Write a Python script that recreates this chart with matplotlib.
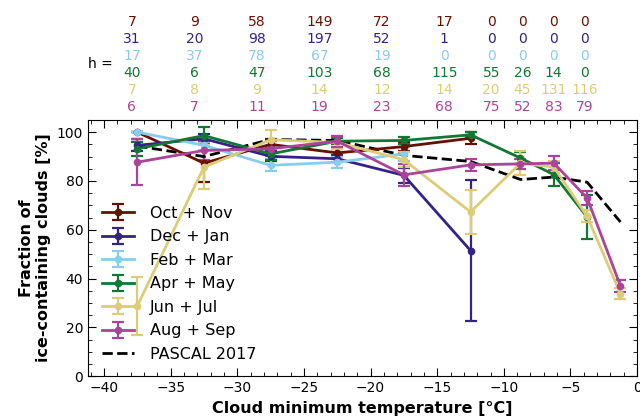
import numpy as np
import matplotlib
matplotlib.use("Agg")
import matplotlib.pyplot as plt
from matplotlib.ticker import MultipleLocator

nan = np.nan

# Temperature bins (bin centres, degC)
temps = [-37.5, -32.5, -27.5, -22.5, -17.5, -12.5, -8.75, -6.25, -3.75, -1.25]

# Fraction of ice-containing clouds per season [%] and their uncertainties
oct_nov = [100, 87.3, 95.0, 91.5, 94.1, 97.5, nan, nan, nan, nan]
oct_nov_err = [0, 7.8, 2.0, 1.5, 2.0, 2.5, nan, nan, nan, nan]
dec_jan = [94.6, 97.3, 90.1, 89.1, 82.3, 51.5, nan, nan, nan, nan]
dec_jan_err = [2.5, 2.0, 2.0, 1.5, 3.0, 29.0, nan, nan, nan, nan]
feb_mar = [100, 94.6, 86.4, 87.7, 91.1, nan, nan, nan, nan, nan]
feb_mar_err = [0, 2.0, 2.5, 2.2, 3.0, nan, nan, nan, nan, nan]
apr_may = [93.2, 98.6, 91.1, 96.3, 96.6, 98.9, 89.4, 82.6, 65.2, nan]
apr_may_err = [2.9, 3.4, 2.5, 1.2, 1.5, 1.0, 2.5, 4.8, 9.0, nan]
jun_jul = [28.8, 85.7, 96.9, 95.8, 88.7, 67.3, 87.3, 85.7, 65.5, 33.8]
jun_jul_err = [12.0, 9.0, 3.8, 2.5, 3.0, 8.9, 5.0, 2.5, 2.5, 2.2]
aug_sep = [87.7, 92.5, 93.2, 96.3, 82.5, 86.6, 87.0, 87.3, 73.0, 37.0]
aug_sep_err = [9.4, 4.0, 3.0, 2.3, 4.5, 2.5, 2.0, 3.0, 3.0, 2.6]
pascal = [94.3, 90.0, 97.0, 96.6, 90.5, 88.0, 80.6, 81.6, 79.5, 63.2]

# Number of observations per bin
h_oct_nov = [7, 9, 58, 149, 72, 17, 0, 0, 0, 0]
h_dec_jan = [31, 20, 98, 197, 52, 1, 0, 0, 0, 0]
h_feb_mar = [17, 37, 78, 67, 19, 0, 0, 0, 0, 0]
h_apr_may = [40, 6, 47, 103, 68, 115, 55, 26, 14, 0]
h_jun_jul = [7, 8, 9, 14, 12, 14, 20, 45, 131, 116]
h_aug_sep = [6, 7, 11, 19, 23, 68, 75, 52, 83, 79]

seasons = ["Oct + Nov", "Dec + Jan", "Feb + Mar", "Apr + May", "Jun + Jul", "Aug + Sep"]
colors = ["#661100", "#332288", "#88CCEE", "#117733", "#DDCC77", "#AA4499"]
values = [oct_nov, dec_jan, feb_mar, apr_may, jun_jul, aug_sep]
errors = [oct_nov_err, dec_jan_err, feb_mar_err, apr_may_err, jun_jul_err, aug_sep_err]
counts = [h_oct_nov, h_dec_jan, h_feb_mar, h_apr_may, h_jun_jul, h_aug_sep]

fig = plt.figure(figsize=(6.4, 4.18), dpi=100)
ax = fig.add_axes([0.1375, 0.100, 0.858, 0.613])

for lab, col, y, e in zip(seasons, colors, values, errors):
    ax.errorbar(temps, y, yerr=e, color=col, marker="o", ms=4.5, lw=2,
                elinewidth=1.6, capsize=4, capthick=1.6, label=lab)
ax.plot(temps, pascal, color="black", ls="--", lw=2, label="PASCAL 2017")

ax.set_xlim(-41.2, 0)
ax.set_ylim(0, 105)
ax.xaxis.set_major_locator(MultipleLocator(5))
ax.xaxis.set_minor_locator(MultipleLocator(1))
ax.yaxis.set_major_locator(MultipleLocator(20))
ax.yaxis.set_minor_locator(MultipleLocator(5))
ax.tick_params(which="both", direction="in", top=True, right=True, labelsize=10)
ax.tick_params(which="major", length=6)
ax.tick_params(which="minor", length=3)

ax.set_xlabel("Cloud minimum temperature [°C]", fontsize=11.5, fontweight="bold")
ax.set_ylabel("Fraction of\nice-containing clouds [%]", fontsize=11.5, fontweight="bold")

# seasons first, reference curve last
handles, labels = ax.get_legend_handles_labels()
order = [labels.index(s) for s in seasons] + [labels.index("PASCAL 2017")]
ax.legend([handles[i] for i in order], [labels[i] for i in order],
          loc="lower left", frameon=False, fontsize=11.5, handlelength=2.0,
          handletextpad=1.0, labelspacing=0.53, borderaxespad=0.5)

# Sample counts above the panel, one row per season
def count_x(t):
    return (600.6 + 12.5 * t) / 640.0

for i, (col, hs) in enumerate(zip(colors, counts)):
    yf = 1 - (21.7 + 17.1 * i) / 418.0
    for t, n in zip(temps, hs):
        fig.text(count_x(t), yf, str(n), color=col, fontsize=10,
                 ha="center", va="center")
fig.text(100.7 / 640, 1 - 64.3 / 418, "h =", fontsize=10, ha="center", va="center")

fig.savefig("out.png", dpi=100)
